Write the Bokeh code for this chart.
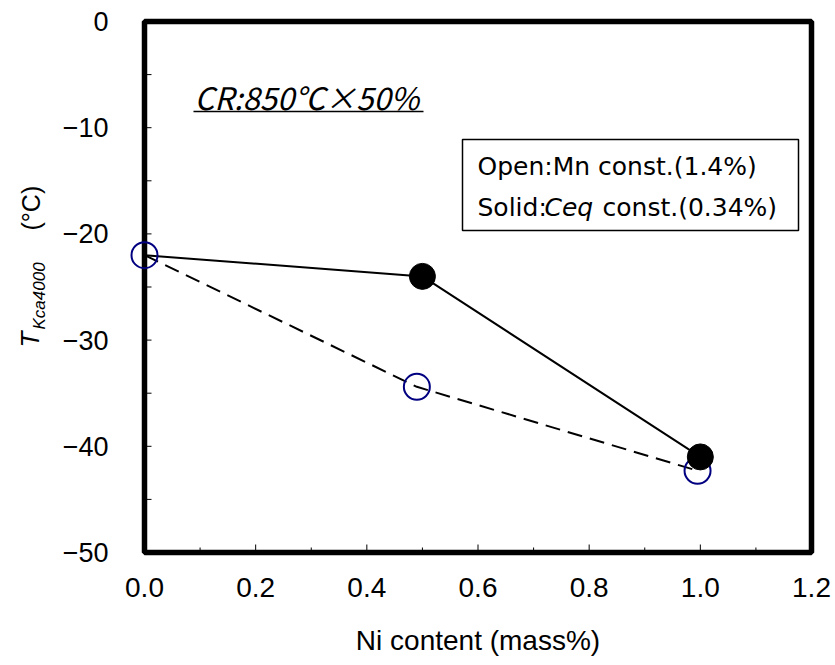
import math

from bokeh.core.properties import value
from bokeh.embed import file_html
from bokeh.models import Label, Range1d
from bokeh.plotting import figure
from bokeh.resources import INLINE

# Ni content (mass%) against T_Kca4000 (deg C)
ni_mn_const = [0.0, 0.49, 0.995]      # open symbols: Mn const. (1.4%)
t_mn_const = [-22.0, -34.4, -42.3]
ni_ceq_const = [0.0, 0.50, 1.00]      # solid symbols: Ceq const. (0.34%)
t_ceq_const = [-22.0, -24.0, -41.0]

x_ticks = [0.0, 0.2, 0.4, 0.6, 0.8, 1.0, 1.2]
x_minor_ticks = [0.1, 0.3, 0.5, 0.7, 0.9, 1.1]
x_tick_labels = ["0.0", "0.2", "0.4", "0.6", "0.8", "1.0", "1.2"]
y_ticks = [-50, -40, -30, -20, -10, 0]
y_minor_ticks = [-45, -35, -25, -15, -5]
y_tick_labels = ["\u221250", "\u221240", "\u221230", "\u221220", "\u221210", "0"]

X_MIN, X_MAX = 0.0, 1.2
Y_MIN, Y_MAX = -50.0, 0.0

# page geometry (pixels); the drawing area covers the whole page and the
# axes box sits inside it, so nothing near the box edge gets clipped
W, H = 835, 665
LEFT, RIGHT, TOP, BOTTOM = 144, 811, 21, 552

FONT = "Liberation Sans"
KEY_FONT = "DejaVu Sans"

XS = (X_MAX - X_MIN) / (RIGHT - LEFT)     # data units per pixel
YS = (Y_MAX - Y_MIN) / (BOTTOM - TOP)


def px_x(px):
    """Horizontal page pixel -> data x."""
    return X_MIN + (px - LEFT) * XS


def px_y(py):
    """Vertical page pixel (from top) -> data y."""
    return Y_MAX - (py - TOP) * YS


p = figure(
    width=W, height=H,
    x_range=Range1d(px_x(0), px_x(W)), y_range=Range1d(px_y(H), px_y(0)),
    x_axis_location=None, y_axis_location=None,
    output_backend="svg", toolbar_location=None,
    min_border=0, min_border_left=0, min_border_right=0,
    min_border_top=0, min_border_bottom=0,
    background_fill_color="white", border_fill_color="white",
)
p.grid.visible = False
p.outline_line_color = None

# inward tick marks
TICK_MAJOR_X, TICK_MINOR_X, TICK_Y = 8, 5, 7
p.segment(x0=x_ticks, y0=[Y_MIN] * len(x_ticks),
          x1=x_ticks, y1=[Y_MIN + TICK_MAJOR_X * YS] * len(x_ticks),
          line_color="black", line_width=1)
p.segment(x0=x_minor_ticks, y0=[Y_MIN] * len(x_minor_ticks),
          x1=x_minor_ticks, y1=[Y_MIN + TICK_MINOR_X * YS] * len(x_minor_ticks),
          line_color="black", line_width=1)
all_y = y_ticks + y_minor_ticks
p.segment(x0=[X_MIN] * len(all_y), y0=all_y,
          x1=[X_MIN + TICK_Y * XS] * len(all_y), y1=all_y,
          line_color="black", line_width=1)

# heavy box around the axes area
p.quad(left=[X_MIN], right=[X_MAX], bottom=[Y_MIN], top=[Y_MAX],
       fill_color=None, line_color="black", line_width=5.5)

# tick labels
p.text(x=x_ticks, y=[px_y(587)] * len(x_ticks), text=x_tick_labels,
       text_font=value(FONT), text_font_size=value("28px"),
       text_align="center", text_baseline="middle", text_color="black")
p.text(x=[px_x(108)] * len(y_ticks), y=y_ticks, text=y_tick_labels,
       text_font=value(FONT), text_font_size=value("27px"),
       text_align="right", text_baseline="middle", text_color="black")

# axis titles
p.add_layout(Label(
    x=(X_MIN + X_MAX) / 2, y=px_y(640), text="Ni content (mass%)",
    text_font=FONT, text_font_size="28px", text_align="center",
    text_baseline="middle", text_color="black",
))
for txt, px, py, size, style in [
    ("T", 29, 347, "26px", "italic"),
    ("Kca4000", 39, 329, "17px", "italic"),
    ("(\u00b0C)", 30, 230, "25px", "normal"),
]:
    p.add_layout(Label(
        x=px_x(px), y=px_y(py), text=txt, angle=math.pi / 2,
        text_font=FONT, text_font_size=size, text_font_style=style,
        text_align="left", text_baseline="middle", text_color="black",
    ))

# series lines
p.line(ni_ceq_const, t_ceq_const, line_color="black", line_width=2)
p.line(ni_mn_const, t_mn_const, line_color="black", line_width=2,
       line_dash="15 8")

# markers
p.scatter(ni_mn_const, t_mn_const, size=26, marker="circle",
          fill_color=None, line_color="#000080", line_width=2)
p.scatter(ni_ceq_const[1:], t_ceq_const[1:], size=26, marker="circle",
          fill_color="black", line_color="black")

# rolling condition note, underlined
p.add_layout(Label(
    x=px_x(194), y=px_y(96), text="CR:850\u2103\u00d750%",
    text_font="Noto Sans CJK JP", text_font_size="31px",
    text_font_style="italic", text_align="left", text_baseline="middle",
    text_color="black",
))
p.segment(x0=[px_x(193)], y0=[px_y(111)], x1=[px_x(423)], y1=[px_y(111)],
          line_color="black", line_width=1.5)

# key box
p.quad(left=[px_x(462)], right=[px_x(798)], top=[px_y(139)],
       bottom=[px_y(230)], fill_color="white", line_color="black",
       line_width=1.5)
key_size = "25px"
p.add_layout(Label(
    x=px_x(477), y=px_y(166), text="Open:Mn const.(1.4%)",
    text_font=KEY_FONT, text_font_size=key_size, text_align="left",
    text_baseline="middle", text_color="black",
))
for txt, px, style in [
    ("Solid:", 477, "normal"),
    ("Ceq", 544, "italic"),
    ("const.(0.34%)", 602, "normal"),
]:
    p.add_layout(Label(
        x=px_x(px), y=px_y(207), text=txt,
        text_font=KEY_FONT, text_font_size=key_size, text_font_style=style,
        text_align="left", text_baseline="middle", text_color="black",
    ))

open("out.html", "w").write(file_html(p, INLINE))
